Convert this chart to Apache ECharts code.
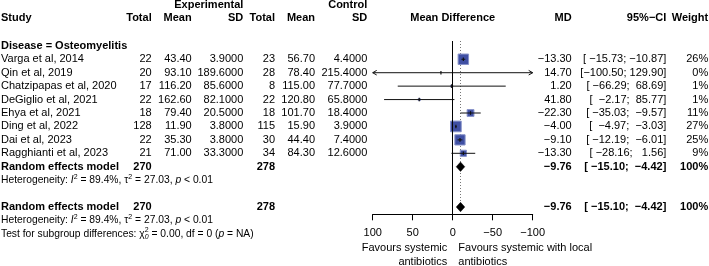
<!DOCTYPE html>
<html>
<head>
<meta charset="utf-8">
<script src="https://cdn.jsdelivr.net/npm/echarts@6.0.0/dist/echarts.min.js"></script>
<style>
html, body { margin: 0; padding: 0; background: #fff; }
#forest { width: 709px; height: 266px; }
</style>
</head>
<body>
<div id="forest"></div>
<script>
// study level data
var studies = ['Varga et al, 2014', 'Qin et al, 2019', 'Chatzipapas et al, 2020', 'DeGiglio et al, 2021',
               'Ehya et al, 2021', 'Ding et al, 2022', 'Dai et al, 2023', 'Ragghianti et al, 2023'];
var exp_total = [22, 20, 17, 22, 18, 128, 22, 21];
var exp_mean = [43.40, 93.10, 116.20, 162.60, 79.40, 11.90, 35.30, 71.00];
var exp_sd = [3.9, 189.6, 85.6, 82.1, 20.5, 3.8, 3.8, 33.3];
var ctl_total = [23, 28, 8, 22, 18, 115, 30, 34];
var ctl_mean = [56.70, 78.40, 115.00, 120.80, 101.70, 15.90, 44.40, 84.30];
var ctl_sd = [4.4, 215.4, 77.7, 65.8, 18.4, 3.9, 7.4, 12.6];
var md = [-13.30, 14.70, 1.20, 41.80, -22.30, -4.00, -9.10, -13.30];
var ci_low = [-15.73, -100.50, -66.29, -2.17, -35.03, -4.97, -12.19, -28.16];
var ci_high = [-10.87, 129.90, 68.69, 85.77, -9.57, -3.03, -6.01, 1.56];
var weight = [26, 0, 1, 1, 11, 27, 25, 9];

// pooled (random effects) results
var pooled_md = -9.76;
var pooled_low = -15.10;
var pooled_high = -4.42;
var pooled_exp_total = 270;
var pooled_ctl_total = 278;
var pooled_rows = [8, 11];
var het_i2 = '89.4%';
var het_tau2 = '27.03';
var het_p = '< 0.01';

var x_ticks = [-100, -50, 0, 50, 100];

var FONT = '"Liberation Sans", Arial, Helvetica, sans-serif';
var Y_MIN = -1.36, Y_MAX = 11.54;

function minus(s) { return String(s).replace('-', '\u2212'); }
function fmt(v, d) { return minus(v.toFixed(d)); }
function pad(s, n) { while (s.length < n) s = ' ' + s; return s; }
function ciText(lo, hi) { return '[' + pad(fmt(lo, 2), 7) + '; ' + pad(fmt(hi, 2), 6) + ']'; }

var studyData = studies.map(function (s, i) {
    return [md[i], i, ci_low[i], ci_high[i], weight[i]];
});
var pooledData = pooled_rows.map(function (r) {
    return [pooled_md, r, pooled_low, pooled_high];
});

function renderStudy(params, api) {
    var est = api.value(0), r = api.value(1), lo = api.value(2), hi = api.value(3), w = api.value(4);
    var c = api.coord([est, r]);
    var pl = api.coord([Math.max(lo, x_ticks[0]), r]);
    var ph = api.coord([Math.min(hi, x_ticks[x_ticks.length - 1]), r]);
    var side = 2.05 * Math.sqrt(w);
    var kids = [];
    if (side > 0) {
        kids.push({type: 'rect', shape: {x: c[0] - side / 2, y: c[1] - side / 2, width: side, height: side},
                   style: {fill: '#3F4FA3', stroke: '#8792C9', lineWidth: 1}});
    }
    kids.push({type: 'line', shape: {x1: pl[0], y1: c[1], x2: ph[0], y2: c[1]},
               style: {stroke: '#111', lineWidth: 1}});
    kids.push({type: 'line', shape: {x1: c[0], y1: c[1] - 1.8, x2: c[0], y2: c[1] + 1.8},
               style: {stroke: '#111', lineWidth: 1.2}});
    function arrow(p) {
        var dir = p[0] > c[0] ? 1 : -1;
        kids.push({type: 'polyline', shape: {points: [[p[0] - dir * 4, c[1] - 2.3], [p[0], c[1]], [p[0] - dir * 4, c[1] + 2.3]]},
                   style: {stroke: '#111', lineWidth: 1, fill: null}});
    }
    if (lo < x_ticks[0]) arrow(pl);
    if (hi > x_ticks[x_ticks.length - 1]) arrow(ph);
    return {type: 'group', children: kids};
}

function renderDiamond(params, api) {
    var r = api.value(1);
    var c = api.coord([api.value(0), r]);
    var a = api.coord([api.value(2), r]);
    var b = api.coord([api.value(3), r]);
    var h = 4.7;
    return {type: 'polygon', shape: {points: [[a[0], c[1]], [c[0], c[1] - h], [b[0], c[1]], [c[0], c[1] + h]]},
            style: {fill: '#000', stroke: '#000', lineWidth: 0.5}};
}

var chart = echarts.init(document.getElementById('forest'));
chart.setOption({
    animation: false,
    backgroundColor: '#fff',
    grid: {left: 372.7, width: 160, top: 41, height: 173.3, outerBoundsMode: 'none', containLabel: false},
    xAxis: {
        type: 'value', min: -100, max: 100, interval: 50, inverse: true,
        splitLine: {show: false},
        axisLine: {onZero: false, lineStyle: {color: '#000', width: 1}},
        axisTick: {length: 6, lineStyle: {color: '#000', width: 1}},
        axisLabel: {color: '#000', fontSize: 11, fontFamily: FONT, margin: 13,
                    formatter: function (v) { return minus(v); }}
    },
    yAxis: {type: 'value', min: Y_MIN, max: Y_MAX, inverse: true, show: false},
    series: [
        {
            type: 'line', name: 'pooled', z: 1, symbol: 'none', silent: true,
            data: [[pooled_md, Y_MIN], [pooled_md, pooled_rows[1]]],
            lineStyle: {color: '#777', width: 1, type: [1, 2]},
            markLine: {
                silent: true, symbol: ['none', 'none'], label: {show: false},
                lineStyle: {color: '#000', type: 'solid', width: 1},
                data: [{xAxis: 0}]
            }
        },
        {type: 'custom', name: 'studies', z: 3, renderItem: renderStudy, data: studyData},
        {type: 'custom', name: 'diamonds', z: 4, renderItem: renderDiamond, data: pooledData}
    ]
});

// table text
var ctx = document.createElement('canvas').getContext('2d');
function measure(t, size, bold, italic) {
    ctx.font = (italic ? 'italic ' : '') + (bold ? 'bold ' : '') + size + 'px ' + FONT;
    return ctx.measureText(t).width;
}
function txt(s, x, y, align, bold, size, italic) {
    return {
        type: 'text', x: x, y: y, silent: true,
        style: {
            text: s, fill: '#000', fontSize: size || 11, fontFamily: FONT,
            fontWeight: bold ? 'bold' : 'normal', fontStyle: italic ? 'italic' : 'normal',
            align: align, verticalAlign: 'middle', textAlign: align, textVerticalAlign: 'middle'
        }
    };
}
function rich(segs, x, y, size) {
    var out = [];
    segs.forEach(function (s) {
        if (s.sup || s.sub) {
            var ws = 0;
            if (s.sup) { out.push(txt(s.sup, x, y - 3.6, 'left', false, size * 0.68, false)); ws = measure(s.sup, size * 0.68); }
            if (s.sub) { out.push(txt(s.sub, x, y + 3.2, 'left', false, size * 0.68, true)); ws = Math.max(ws, measure(s.sub, size * 0.68, false, true)); }
            x += ws;
        } else {
            out.push(txt(s.t, x, y, 'left', false, size, s.it));
            x += measure(s.t, size, false, s.it);
        }
    });
    return out;
}

function rowY(r) { return chart.convertToPixel({gridIndex: 0}, [0, r])[1]; }
var zeroX = chart.convertToPixel({gridIndex: 0}, [0, 0])[0];
var axisY = rowY(Y_MAX);

var col = {study: 1, eT: 151.7, eM: 191.7, eS: 243.3, cT: 275, cM: 315, cS: 367.3, md: 571.7, ci: 666.3, w: 708.2};
var g = [];
var yTop = rowY(-4.05), yHead = rowY(-3.05);
g.push(txt('Experimental', col.eS, yTop, 'right', true));
g.push(txt('Control', col.cS, yTop, 'right', true));
g.push(txt('Study', col.study, yHead, 'left', true));
g.push(txt('Total', col.eT, yHead, 'right', true));
g.push(txt('Mean', col.eM, yHead, 'right', true));
g.push(txt('SD', col.eS, yHead, 'right', true));
g.push(txt('Total', col.cT, yHead, 'right', true));
g.push(txt('Mean', col.cM, yHead, 'right', true));
g.push(txt('SD', col.cS, yHead, 'right', true));
g.push(txt('Mean Difference', zeroX, yHead, 'center', true));
g.push(txt('MD', col.md, yHead, 'right', true));
g.push(txt('95%\u2212CI', col.ci, yHead, 'right', true));
g.push(txt('Weight', col.w, yHead, 'right', true));
g.push(txt('Disease = Osteomyelitis', col.study, rowY(-1), 'left', true));

studies.forEach(function (s, i) {
    var y = rowY(i);
    g.push(txt(s, col.study, y, 'left'));
    g.push(txt(String(exp_total[i]), col.eT, y, 'right'));
    g.push(txt(exp_mean[i].toFixed(2), col.eM, y, 'right'));
    g.push(txt(exp_sd[i].toFixed(4), col.eS, y, 'right'));
    g.push(txt(String(ctl_total[i]), col.cT, y, 'right'));
    g.push(txt(ctl_mean[i].toFixed(2), col.cM, y, 'right'));
    g.push(txt(ctl_sd[i].toFixed(4), col.cS, y, 'right'));
    g.push(txt(fmt(md[i], 2), col.md, y, 'right'));
    g.push(txt(ciText(ci_low[i], ci_high[i]), col.ci, y, 'right'));
    g.push(txt(weight[i] + '%', col.w, y, 'right'));
});

var hetSegs = [{t: 'Heterogeneity: '}, {t: 'I', it: true}, {sup: '2'}, {t: ' = ' + het_i2 + ', \u03c4'}, {sup: '2'},
               {t: ' = ' + het_tau2 + ', '}, {t: 'p', it: true}, {t: ' ' + het_p}];
pooled_rows.forEach(function (r) {
    var y = rowY(r);
    g.push(txt('Random effects model', col.study, y, 'left', true));
    g.push(txt(String(pooled_exp_total), col.eT, y, 'right', true));
    g.push(txt(String(pooled_ctl_total), col.cT, y, 'right', true));
    g.push(txt(fmt(pooled_md, 2), col.md, y, 'right', true));
    g.push(txt(ciText(pooled_low, pooled_high), col.ci, y, 'right', true));
    g.push(txt('100%', col.w, y, 'right', true));
    g = g.concat(rich(hetSegs, col.study, rowY(r + 1), 10.3));
});
g = g.concat(rich([{t: 'Test for subgroup differences: \u03c7'}, {sup: '2', sub: '0'}, {t: ' = 0.00, df = 0 ('},
                   {t: 'p', it: true}, {t: ' = NA)'}], col.study, rowY(13), 10.3));

g.push(txt('Favours systemic', zeroX - 5.4, axisY + 33.7, 'right'));
g.push(txt('antibiotics', zeroX - 5.4, axisY + 47.7, 'right'));
g.push(txt('Favours systemic with local', zeroX + 5.6, axisY + 33.7, 'left'));
g.push(txt('antibiotics', zeroX + 5.6, axisY + 47.7, 'left'));

chart.setOption({graphic: {elements: g}});
</script>
</body>
</html>
